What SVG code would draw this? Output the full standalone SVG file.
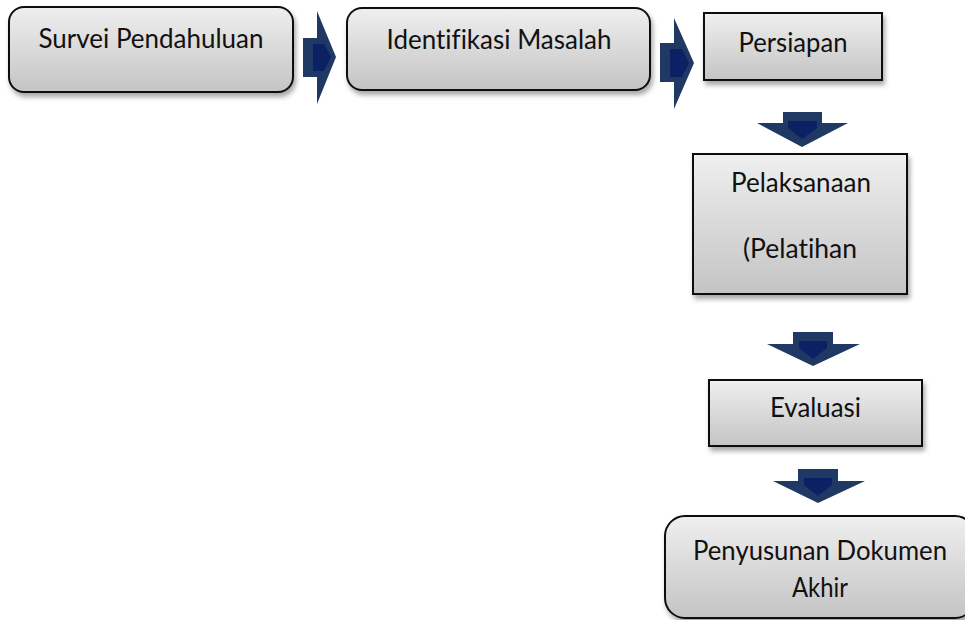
<svg xmlns="http://www.w3.org/2000/svg" width="965" height="620" viewBox="0 0 965 620">
  <defs>
    <linearGradient id="boxFill" x1="0" y1="0" x2="0" y2="1">
      <stop offset="0" stop-color="#efefef"/>
      <stop offset="1" stop-color="#c4c4c4"/>
    </linearGradient>
    <filter id="shadow" x="-10%" y="-10%" width="125%" height="135%">
      <feDropShadow dx="2" dy="4" stdDeviation="2.5" flood-color="#000" flood-opacity="0.35"/>
    </filter>
  </defs>
  <style>
    .box { fill: url(#boxFill); stroke: #111; stroke-width: 2; filter: url(#shadow); }
    .lbl { font-family: Lato, "Liberation Sans", sans-serif; font-size: 26px; fill: #111; text-anchor: middle; font-variant-ligatures: none; font-feature-settings: "liga" 0, "dlig" 0; }
    .arrOut { fill: #1f3864; }
    .arrIn { fill: #0a2263; }
  </style>
  <rect width="965" height="620" fill="#fff"/>

  <g id="connectors">
    <g id="arrow-1">
      <polygon class="arrOut" points="303,38 317,38 317,11 336,57 317,104 317,77 303,77"/>
      <polygon class="arrIn" points="313,44 324,44 331,57 324,71 313,71"/>
    </g>
    <g id="arrow-2">
      <polygon class="arrOut" points="660,43 674,43 674,18 694,63 674,109 674,82 660,82"/>
      <polygon class="arrIn" points="670,49 682,49 689,63 682,77 670,77"/>
    </g>
    <g id="arrow-3">
      <polygon class="arrOut" points="783,112 822,112 822,123 848,123 802,147 757,123 783,123"/>
      <polygon class="arrIn" points="788,121 817,121 817,128 802,139 788,128"/>
    </g>
    <g id="arrow-4">
      <polygon class="arrOut" points="793,332 833,332 833,344 860,344 813,366 767,344 793,344"/>
      <polygon class="arrIn" points="799,341 827,341 827,348 813,359 799,348"/>
    </g>
    <g id="arrow-5">
      <polygon class="arrOut" points="798,469 838,469 838,481 865,481 818,503 773,481 798,481"/>
      <polygon class="arrIn" points="804,478 832,478 832,485 818,496 804,485"/>
    </g>
  </g>

  <g id="survei">
    <rect class="box" x="9" y="7" width="284" height="85" rx="15" ry="15"/>
    <text class="lbl" x="151" y="48" textLength="225" lengthAdjust="spacingAndGlyphs">Survei Pendahuluan</text>
  </g>

  <g id="identifikasi">
    <rect class="box" x="347" y="8" width="303" height="82" rx="15" ry="15"/>
    <text class="lbl" x="499" y="49" textLength="225" lengthAdjust="spacingAndGlyphs">Identifikasi Masalah</text>
  </g>

  <g id="persiapan">
    <rect class="box" x="704" y="13" width="178" height="67"/>
    <text class="lbl" x="793" y="52" textLength="109" lengthAdjust="spacingAndGlyphs">Persiapan</text>
  </g>

  <g id="pelaksanaan">
    <rect class="box" x="693" y="154" width="214" height="140"/>
    <text class="lbl" x="801" y="192" textLength="140" lengthAdjust="spacingAndGlyphs">Pelaksanaan</text>
    <text class="lbl" x="800" y="258" textLength="114" lengthAdjust="spacingAndGlyphs">(Pelatihan</text>
  </g>

  <g id="evaluasi">
    <rect class="box" x="709" y="380" width="213" height="66"/>
    <text class="lbl" x="815.5" y="417" textLength="91" lengthAdjust="spacingAndGlyphs">Evaluasi</text>
  </g>

  <g id="penyusunan">
    <rect class="box" x="665" y="516" width="310" height="102" rx="20" ry="20"/>
    <text class="lbl" x="820" y="560" textLength="254" lengthAdjust="spacingAndGlyphs">Penyusunan Dokumen</text>
    <text class="lbl" x="820" y="597" textLength="56" lengthAdjust="spacingAndGlyphs">Akhir</text>
  </g>
</svg>
